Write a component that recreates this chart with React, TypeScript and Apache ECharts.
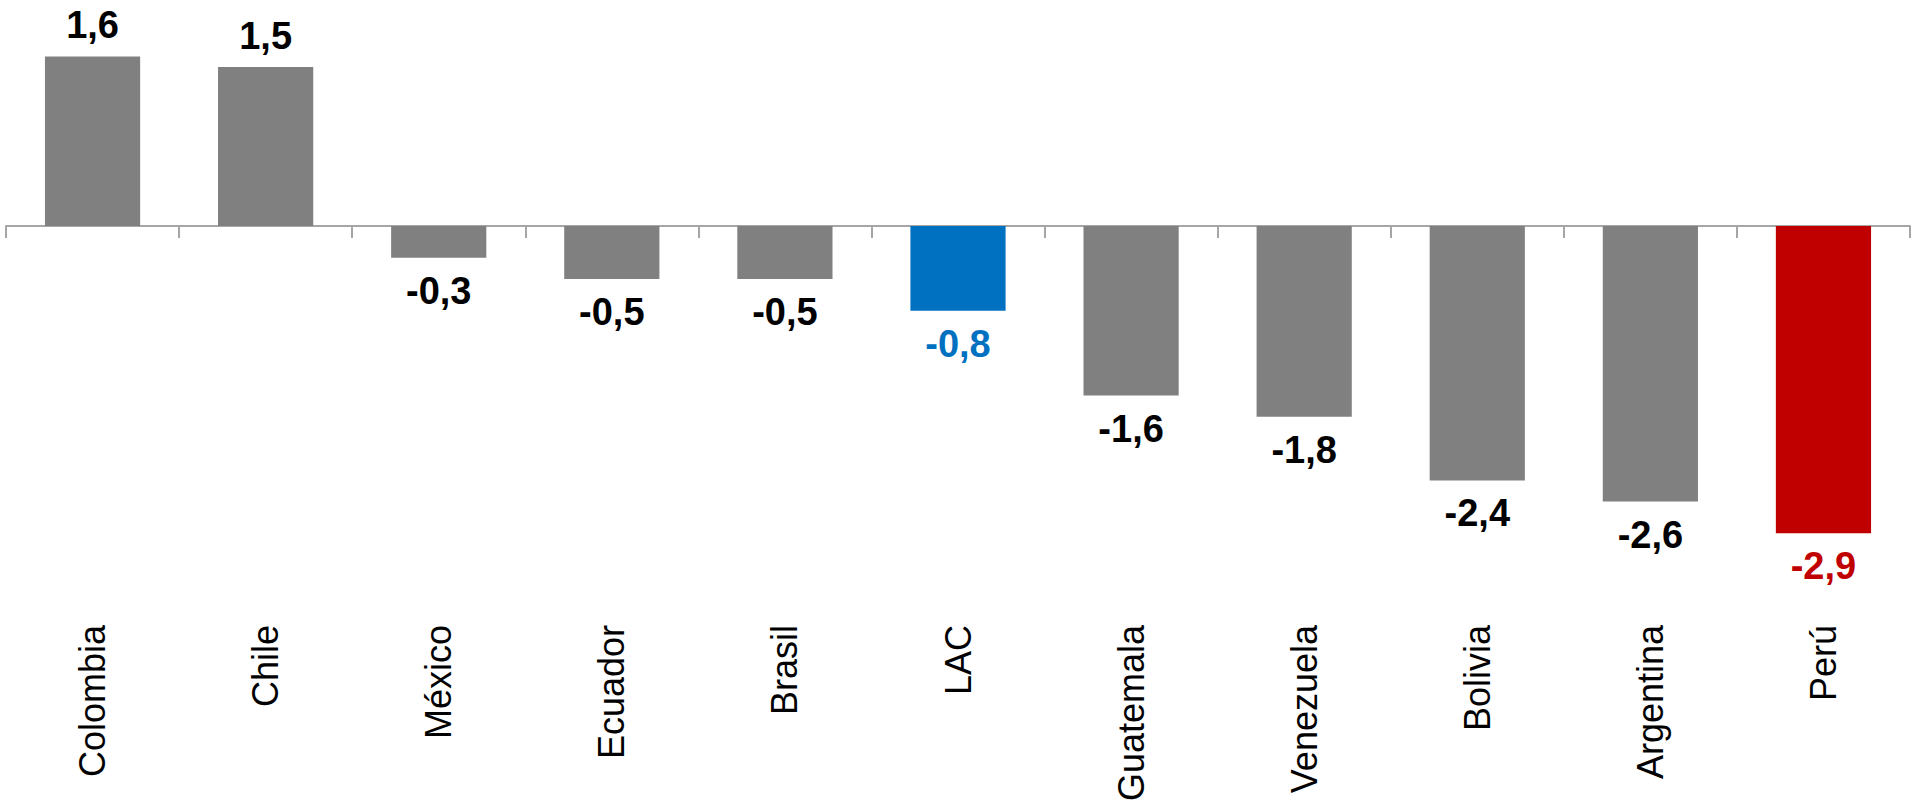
import React, { useEffect, useRef } from "react";
import * as echarts from "echarts";

const categories = ["Colombia", "Chile", "México", "Ecuador", "Brasil", "LAC", "Guatemala", "Venezuela", "Bolivia", "Argentina", "Perú"];
const values = [1.6, 1.5, -0.3, -0.5, -0.5, -0.8, -1.6, -1.8, -2.4, -2.6, -2.9];
const barColors = ["#808080", "#808080", "#808080", "#808080", "#808080", "#0070C0", "#808080", "#808080", "#808080", "#808080", "#C00000"];
const labelColors = ["#000000", "#000000", "#000000", "#000000", "#000000", "#0070C0", "#000000", "#000000", "#000000", "#000000", "#C00000"];

const FONT = "'Liberation Sans', Arial, Helvetica, sans-serif";

export default function App() {
  const ref = useRef<HTMLDivElement>(null);
  useEffect(() => {
    if (!ref.current) return;
    const chart = echarts.init(ref.current, undefined, { renderer: "svg" });
    chart.setOption({
      animation: false,
      backgroundColor: "#ffffff",
      grid: { left: 6, right: 4, top: 14, bottom: 187, containLabel: false },
      xAxis: [
        {
          type: "category",
          data: categories,
          position: "bottom",
          boundaryGap: true,
          axisLine: { onZero: true, lineStyle: { color: "#A6A6A6", width: 2 } },
          axisTick: { show: true, length: 12, alignWithLabel: false, lineStyle: { color: "#A6A6A6", width: 2 } },
          axisLabel: { show: false },
          splitLine: { show: false },
        },
        {
          type: "category",
          data: categories,
          position: "bottom",
          offset: 0,
          axisLine: { show: false, onZero: false },
          axisTick: { show: false },
          axisLabel: {
            show: true,
            rotate: 90,
            margin: 1,
            interval: 0,
            fontFamily: FONT,
            fontSize: 36,
            color: "#000000",
          },
        },
      ],
      yAxis: {
        type: "value",
        min: -3.755,
        max: 2,
        show: false,
        splitLine: { show: false },
      },
      series: [
        {
          type: "bar",
          xAxisIndex: 0,
          barWidth: "55%",
          data: values.map((v, i) => ({
            value: v,
            itemStyle: { color: barColors[i] },
            label: {
              show: true,
              position: v >= 0 ? "top" : "bottom",
              distance: v >= 0 ? 15 : 17,
              color: labelColors[i],
              fontFamily: FONT,
              fontWeight: "bold",
              fontSize: 38,
              lineHeight: 32,
              formatter: () => v.toFixed(1).replace(".", ","),
            },
          })),
        },
      ],
    });
    return () => chart.dispose();
  }, []);
  return <div ref={ref} style={{ position: "absolute", left: 0, top: 0, width: 1914, height: 811 }} />;
}
